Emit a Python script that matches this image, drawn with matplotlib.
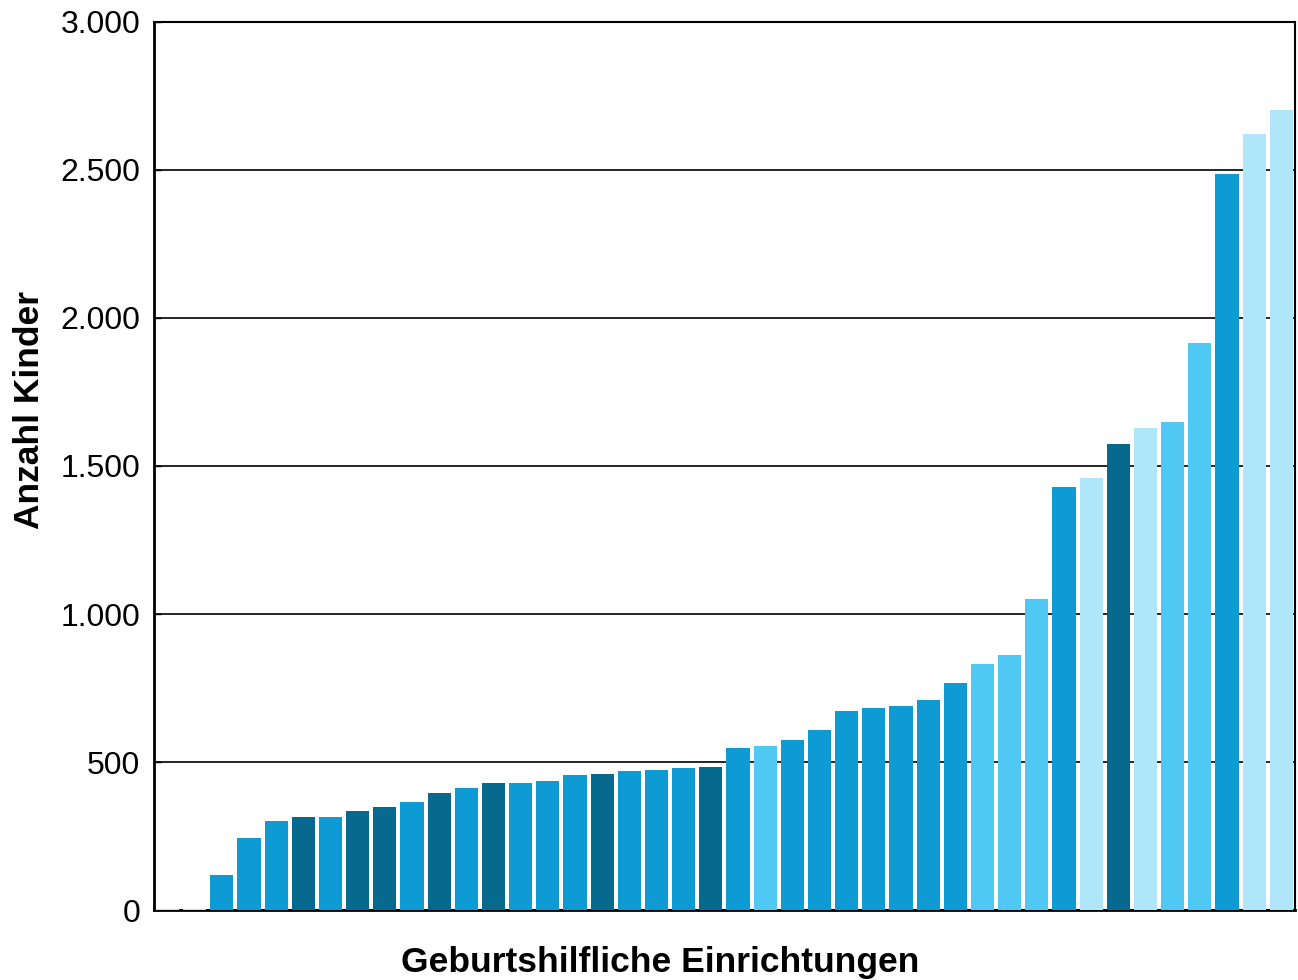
import matplotlib
matplotlib.use('Agg')
import matplotlib.pyplot as plt
from matplotlib.ticker import FuncFormatter

# Anzahl Kinder je Einrichtung (sortiert)
werte = [2, 2, 118, 243, 300, 314, 314, 334, 347, 364, 394, 411, 428, 428,
         435, 455, 458, 470, 473, 480, 483, 547, 554, 574, 608, 672, 682,
         689, 709, 767, 831, 861, 1051, 1430, 1461, 1573, 1630, 1647, 1914,
         2486, 2621, 2702]
# Farbgruppe je Balken: d = dunkel, m = mittel, h = hell, s = sehr hell
gruppen = ['s', 's', 'm', 'm', 'm', 'd', 'm', 'd', 'd', 'm', 'd', 'm', 'd', 'm',
           'm', 'm', 'd', 'm', 'm', 'm', 'd', 'm', 'h', 'm', 'm', 'm', 'm',
           'm', 'm', 'm', 'h', 'h', 'h', 'm', 's', 'd', 's', 'h', 'h',
           'm', 's', 's']
y_ticks = [0, 500, 1000, 1500, 2000, 2500, 3000]

farben = {'d': '#08698e', 'm': '#0e9bd4', 'h': '#50c8f4', 's': '#b0e6fa'}

plt.rcParams['font.family'] = ['Liberation Sans', 'DejaVu Sans']

fig = plt.figure(figsize=(12.98, 9.8), dpi=100)
ax = fig.add_axes([0.1186, 0.0714, 0.879, 0.9062])

x = list(range(len(werte)))
ax.bar(x, werte, width=0.85, color=[farben[g] for g in gruppen], zorder=3)

ax.set_xlim(-0.5, len(werte) - 0.5)
ax.set_ylim(0, 3000)
ax.set_yticks(y_ticks)
ax.yaxis.set_major_formatter(FuncFormatter(lambda v, p: f'{int(v):,}'.replace(',', '.')))
ax.set_xticks([])
ax.grid(axis='y', color='black', linewidth=1.2, zorder=1)
ax.tick_params(axis='y', direction='in', length=5, width=1, labelsize=23, pad=10)

for s in ax.spines.values():
    s.set_linewidth(1.5)
    s.set_zorder(2)
ax.spines['left'].set_linewidth(2)
ax.spines['bottom'].set_linewidth(2)

ax.set_ylabel('Anzahl Kinder', fontsize=25.5, fontweight='bold')
ax.yaxis.set_label_coords(-0.095, 0.563)
ax.set_xlabel('Geburtshilfliche Einrichtungen', fontsize=25.5, fontweight='bold')
ax.xaxis.set_label_coords(0.444, -0.04)

plt.savefig('out.png', dpi=100)
